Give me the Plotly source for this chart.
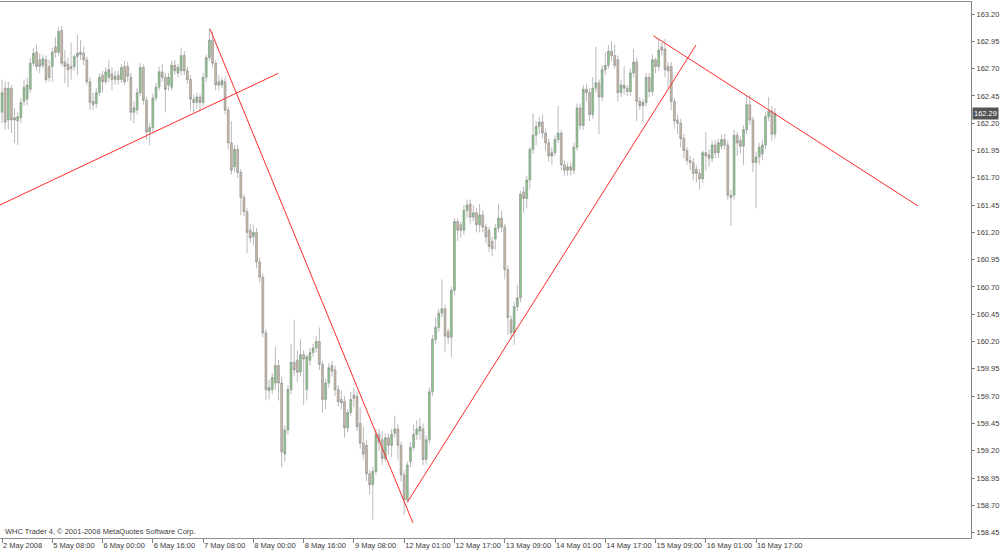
import plotly.graph_objects as go

# ---- hourly OHLC data (bar index 0 .. 246) ----
opens = [
162.30,162.52,162.23,162.52,162.25,162.22,162.25,162.40,162.42,162.51,
162.75,162.85,162.78,162.73,162.78,162.72,162.72,162.90,162.85,163.05,
162.76,162.74,162.72,162.72,162.81,162.85,162.84,162.78,162.58,162.40,
162.38,162.48,162.64,162.58,162.62,162.65,162.60,162.64,162.60,162.72,
162.72,162.62,162.30,162.32,162.48,162.71,162.41,162.12,162.16,162.43,
162.53,162.67,162.62,162.55,162.53,162.73,162.66,162.68,162.82,162.68,
162.60,162.42,162.39,162.44,162.39,162.62,162.80,162.96,162.75,162.58,
162.55,162.58,162.32,162.02,161.80,161.96,161.75,161.52,161.39,161.22,
161.16,161.20,160.93,160.79,160.28,159.75,159.76,159.82,159.98,159.82,
159.17,159.39,159.76,160.01,160.03,159.92,160.08,159.76,160.03,160.10,
160.14,160.20,159.99,159.67,159.82,159.98,159.94,159.76,159.67,159.65,
159.41,159.55,159.71,159.70,159.45,159.27,159.25,158.99,158.89,159.01,
159.35,159.30,159.13,159.32,159.25,159.36,159.40,159.25,158.98,158.75,
159.10,159.23,159.35,159.38,159.40,159.12,159.30,159.74,160.22,160.33,
160.46,160.50,160.29,160.24,160.67,161.30,161.27,161.22,161.40,161.46,
161.34,161.38,161.27,161.36,161.25,161.22,161.12,161.14,161.24,161.33,
161.25,160.86,160.40,160.28,160.52,160.60,161.57,161.51,161.68,161.96,
162.09,162.17,162.21,162.11,162.02,161.90,161.93,162.05,162.11,161.82,
161.77,161.80,161.77,161.98,162.34,162.18,162.51,162.48,162.28,162.52,
162.57,162.44,162.69,162.73,162.86,162.82,162.78,162.48,162.55,162.52,
162.49,162.66,162.76,162.40,162.36,162.39,162.62,162.49,162.78,162.72,
162.90,162.88,162.72,162.72,162.40,162.23,162.20,162.06,161.95,161.86,
161.84,161.78,161.74,161.69,161.93,161.91,161.88,162.00,161.93,161.99,
162.05,162.00,161.52,161.54,162.09,162.04,161.99,162.14,162.37,162.23,
161.84,161.89,161.92,162.00,162.26,162.31,162.10]
highs = [
162.60,162.58,162.58,162.55,162.34,162.30,162.43,162.60,162.62,162.80,
162.89,162.92,162.84,162.83,162.82,162.78,162.89,162.99,163.08,163.09,
162.87,162.80,162.94,162.83,163.01,162.96,162.90,162.81,162.62,162.48,
162.52,162.66,162.68,162.71,162.78,162.71,162.68,162.68,162.74,162.77,
162.76,162.66,162.40,162.52,162.75,162.74,162.44,162.20,162.47,162.57,
162.72,162.74,162.66,162.66,162.77,162.78,162.74,162.89,162.86,162.72,
162.64,162.46,162.48,162.47,162.66,162.83,163.07,163.04,162.78,162.64,
162.62,162.62,162.35,162.22,162.00,162.00,161.78,161.55,161.42,161.28,
161.27,161.24,160.97,160.82,160.31,159.85,159.91,160.15,160.03,159.88,
159.43,159.80,160.18,160.40,160.12,160.22,160.12,160.08,160.14,160.18,
160.25,160.33,160.02,159.86,160.00,160.02,159.98,159.80,159.75,159.70,
159.58,159.74,159.77,159.74,159.60,159.42,159.30,159.02,159.05,159.40,
159.40,159.38,159.36,159.36,159.40,159.52,159.44,159.28,159.02,159.10,
159.28,159.44,159.48,159.50,159.45,159.34,159.78,160.26,160.42,160.50,
160.77,160.54,160.32,160.70,161.33,161.33,161.30,161.45,161.50,161.50,
161.45,161.42,161.46,161.40,161.28,161.25,161.16,161.28,161.46,161.40,
161.28,160.90,160.44,160.56,160.72,161.58,161.62,161.72,161.98,162.29,
162.22,162.26,162.28,162.15,162.06,161.98,162.09,162.36,162.14,161.86,
161.84,161.84,162.02,162.38,162.38,162.55,162.56,162.52,162.62,162.90,
162.60,162.73,162.85,162.92,162.95,162.92,162.82,162.60,162.72,162.55,
162.70,162.88,162.80,162.44,162.42,162.66,162.66,162.83,162.80,162.97,
162.94,162.97,162.76,162.76,162.43,162.28,162.24,162.10,161.98,161.90,
161.88,161.82,161.78,161.95,162.12,161.96,162.04,162.05,162.06,162.10,
162.10,162.04,161.59,162.14,162.12,162.08,162.18,162.46,162.46,162.26,
161.94,162.02,162.05,162.30,162.44,162.36,162.34]
lows = [
162.20,162.14,162.14,162.11,162.02,162.00,162.20,162.36,162.36,162.48,
162.72,162.68,162.66,162.70,162.57,162.58,162.58,162.80,162.82,162.72,
162.57,162.53,162.60,162.68,162.64,162.78,162.73,162.55,162.32,162.32,
162.34,162.45,162.48,162.55,162.58,162.50,162.55,162.55,162.57,162.55,
162.58,162.22,162.20,162.28,162.45,162.37,162.05,162.00,162.12,162.40,
162.50,162.58,162.30,162.50,162.50,162.64,162.62,162.64,162.64,162.56,
162.32,162.30,162.33,162.31,162.36,162.58,162.77,162.71,162.50,162.50,
162.52,162.28,161.96,161.73,161.75,161.70,161.36,161.35,161.01,161.10,
161.08,160.87,160.74,160.24,159.66,159.67,159.72,159.76,159.66,159.05,
159.10,159.35,159.72,159.88,159.83,159.88,159.62,159.66,159.98,160.06,
160.10,159.94,159.55,159.58,159.78,159.88,159.70,159.60,159.58,159.32,
159.37,159.52,159.60,159.38,159.22,159.12,158.92,158.80,158.57,158.98,
159.20,159.07,159.10,159.16,159.14,159.32,159.12,158.92,158.61,158.72,
159.05,159.20,159.30,159.30,159.07,159.08,159.26,159.70,160.18,160.29,
160.42,160.10,160.18,160.06,160.63,161.12,161.15,161.18,161.33,161.28,
161.30,161.20,161.20,161.20,161.10,161.02,160.98,161.04,161.20,161.20,
160.77,160.26,160.22,160.17,160.48,160.56,161.38,161.42,161.60,161.92,
162.00,162.10,162.06,161.95,161.85,161.82,161.90,162.02,161.77,161.72,
161.72,161.72,161.73,161.95,162.14,162.14,162.40,162.22,162.24,162.48,
162.10,162.40,162.64,162.70,162.77,162.70,162.40,162.44,162.46,162.45,
162.45,162.62,162.22,162.32,162.20,162.35,162.44,162.45,162.66,162.68,
162.82,162.62,162.52,162.32,162.15,162.10,161.98,161.88,161.82,161.77,
161.68,161.66,161.59,161.65,161.76,161.80,161.84,161.88,161.88,161.96,
161.96,161.50,161.26,161.50,161.90,161.92,161.82,162.10,162.18,161.75,
161.42,161.82,161.86,161.96,162.22,162.04,162.06]
closes = [
162.48,162.21,162.52,162.23,162.23,162.26,162.39,162.53,162.55,162.75,
162.84,162.72,162.72,162.79,162.60,162.62,162.85,162.85,163.04,162.75,
162.72,162.69,162.70,162.81,162.84,162.83,162.78,162.58,162.39,162.37,
162.48,162.62,162.58,162.67,162.69,162.60,162.63,162.60,162.71,162.58,
162.63,162.30,162.34,162.48,162.71,162.41,162.12,162.16,162.43,162.53,
162.67,162.62,162.51,162.62,162.73,162.68,162.71,162.82,162.68,162.60,
162.42,162.39,162.44,162.39,162.62,162.80,162.96,162.75,162.55,162.55,
162.59,162.32,162.02,161.77,161.96,161.75,161.52,161.39,161.20,161.15,
161.20,160.93,160.79,160.28,159.76,159.78,159.87,159.98,159.82,159.19,
159.39,159.76,160.01,159.94,159.92,160.08,160.04,160.06,160.10,160.14,
160.20,159.99,159.67,159.82,159.96,159.93,159.76,159.65,159.64,159.41,
159.55,159.67,159.68,159.42,159.27,159.17,158.99,158.89,159.01,159.35,
159.28,159.13,159.32,159.25,159.35,159.40,159.25,158.98,158.75,159.07,
159.23,159.35,159.40,159.42,159.12,159.30,159.74,160.22,160.33,160.46,
160.50,160.25,160.24,160.67,161.30,161.22,161.22,161.40,161.45,161.34,
161.38,161.27,161.36,161.25,161.16,161.07,161.05,161.24,161.33,161.25,
160.86,160.42,160.28,160.52,160.60,161.55,161.51,161.68,161.96,162.09,
162.17,162.21,162.11,162.02,161.90,161.93,162.05,162.11,161.82,161.77,
161.80,161.77,161.98,162.34,162.18,162.51,162.48,162.28,162.52,162.57,
162.44,162.69,162.73,162.86,162.82,162.73,162.48,162.55,162.52,162.49,
162.66,162.76,162.40,162.36,162.39,162.62,162.49,162.78,162.72,162.87,
162.87,162.69,162.68,162.40,162.22,162.20,162.06,161.95,161.86,161.84,
161.74,161.74,161.69,161.93,161.90,161.88,162.00,161.93,162.02,162.05,
162.00,161.54,161.54,162.09,162.02,161.99,162.14,162.37,162.23,161.84,
161.89,161.98,162.00,162.26,162.31,162.10,162.29]

# ---- time-axis labels (every 16 hourly bars) ----
x_tick_bars = [0, 16, 32, 48, 64, 80, 96, 112, 128, 144, 160, 176, 192, 208, 224, 240]
x_tick_labels = ["2 May 2008", "5 May 08:00", "6 May 00:00", "6 May 16:00",
                 "7 May 08:00", "8 May 00:00", "8 May 16:00", "9 May 08:00",
                 "12 May 01:00", "12 May 17:00", "13 May 09:00", "14 May 01:00",
                 "14 May 17:00", "15 May 09:00", "16 May 01:00", "16 May 17:00"]

# ---- hand-drawn trend lines (bar index, price) ----
trend_lines = [
    ([-0.64, 87.94], [161.451, 162.657]),
    ([66.2, 130.8], [163.063, 158.539]),
    ([129.06, 220.88], [158.731, 162.916]),
    ([207.29, 291.53], [163.001, 161.442]),
]
last_price = 162.29

bars = list(range(len(closes)))
FONT = "Liberation Sans, Arial, sans-serif"

fig = go.Figure()
fig.add_trace(go.Candlestick(
    x=bars, open=opens, high=highs, low=lows, close=closes,
    increasing=dict(line=dict(color="#8c8c8c", width=0.6), fillcolor="#86c886"),
    decreasing=dict(line=dict(color="#8c8c8c", width=0.6), fillcolor="#c9b9a6"),
    whiskerwidth=0, showlegend=False, hoverinfo="skip"))

for tx, ty in trend_lines:
    fig.add_trace(go.Scatter(x=tx, y=ty, mode="lines",
                             line=dict(color="#ff2a2a", width=1),
                             showlegend=False, hoverinfo="skip"))

fig.update_layout(
    width=1000, height=553, template="none",
    paper_bgcolor="white", plot_bgcolor="white",
    boxgap=0.15,
    margin=dict(l=0, r=29, t=2, b=15, autoexpand=False),
    font=dict(family=FONT, size=7.5, color="#3a3a3a"),
    xaxis=dict(range=[-0.64, 308.4], rangeslider=dict(visible=False),
               tickmode="array", tickvals=x_tick_bars, ticktext=x_tick_labels,
               tickangle=0,
               ticks="outside", ticklen=4, tickcolor="#808080",
               ticklabelposition="outside right",
               showgrid=False, zeroline=False, automargin=False,
               showline=True, linecolor="#909090", linewidth=1, mirror=True),
    yaxis=dict(range=[158.401, 163.31], side="right",
               tick0=158.45, dtick=0.25, tickformat=".2f",
               ticks="outside", ticklen=3, tickcolor="#808080",
               showgrid=False, zeroline=False, automargin=False,
               showline=True, linecolor="#808080", linewidth=1, mirror=True),
)

fig.add_annotation(x=1, xref="paper", xanchor="left", y=last_price, yref="y",
                   text=f"{last_price:.2f}", showarrow=False,
                   font=dict(family=FONT, size=7.5, color="#ffffff"),
                   bgcolor="#555555", borderpad=1, xshift=1)
fig.add_annotation(x=0, xref="paper", xanchor="left", y=0, yref="paper",
                   yanchor="bottom", text="WHC Trader 4, © 2001-2008 MetaQuotes Software Corp.",
                   showarrow=False, xshift=3, yshift=0,
                   font=dict(family=FONT, size=7.5, color="#404040"))

fig.write_html("out.html", config=dict(displayModeBar=False),
               post_script="document.body.style.margin='0';document.body.style.overflow='hidden';")
